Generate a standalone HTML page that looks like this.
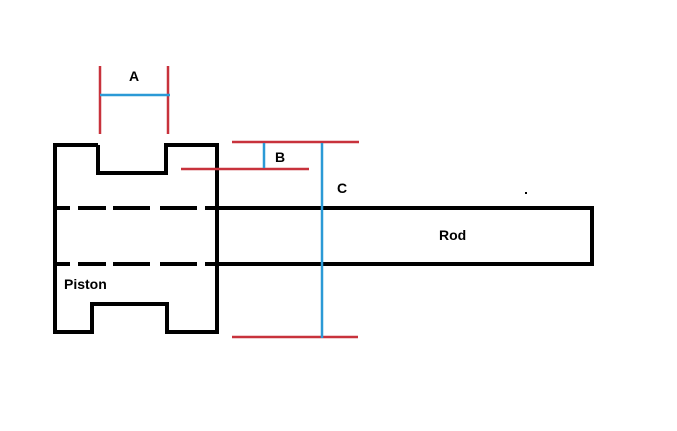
<!DOCTYPE html>
<html><head><style>body{margin:0;background:#fff}svg{display:block}</style></head>
<body>
<svg width="677" height="431" xmlns="http://www.w3.org/2000/svg" font-family="Liberation Sans, sans-serif" font-weight="bold" font-size="14">
<rect width="677" height="431" fill="#fff"/>
<g stroke="#000" stroke-width="4" fill="none">
<polyline points="98,145 55,145 55,332 92,332 92,304 167,304 167,332 217,332 217,145 166,145 166,173 98,173 98,145"/>
<polyline points="217,208 592,208 592,264 217,264"/>
<path d="M57,208H70M78,208H106M113,208H150M160,208H197M205,208H217"/>
<path d="M57,264H70M78,264H106M113,264H150M160,264H197M205,264H217"/>
</g>
<g stroke="#c8323c" stroke-width="2.5">
<path d="M100,66V134M168,66V134M232,142H359M181,169H309M232,337H358"/>
</g>
<g stroke="#2b9ad6" stroke-width="2.5">
<path d="M100,95H170M264,143V168M322,143V338"/>
</g>
<g fill="#000">
<text x="129" y="81">A</text>
<text x="275" y="162">B</text>
<text x="337" y="193">C</text>
<text x="439" y="240">Rod</text>
<text x="64" y="289">Piston</text>
</g>
<rect x="525" y="192" width="2" height="2" fill="#000"/>
</svg>
</body></html>
